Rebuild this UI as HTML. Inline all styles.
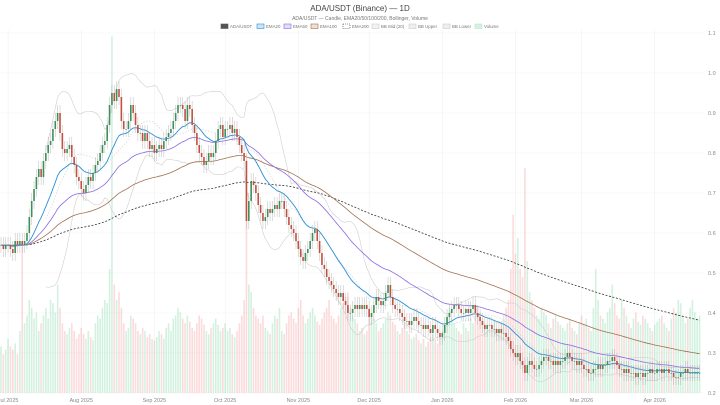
<!DOCTYPE html>
<html><head><meta charset="utf-8">
<style>
html,body{margin:0;padding:0;background:#fff;width:720px;height:405px;overflow:hidden;font-family:"Liberation Sans",sans-serif}
svg text{font-family:"Liberation Sans",sans-serif}
</style></head>
<body>
<svg id="chart" width="720" height="405" viewBox="0 0 720 405" xmlns="http://www.w3.org/2000/svg">
<text x="360" y="11" font-size="8" fill="#444" text-anchor="middle">ADA/USDT (Binance) — 1D</text>
<text x="360" y="20" font-size="5" fill="#777" text-anchor="middle">ADA/USDT — Candle, EMA20/50/100/200, Bollinger, Volume</text>
<g id="legend" font-size="4.4" fill="#777"></g>
<g id="grid"></g>
<g id="vol"></g>
<g id="bb"></g>
<g id="emas"></g>
<g id="candles"></g>
<g id="axes" font-size="5.5" fill="#888"></g>
</svg>
<script>
const startDate = [2025, 5, 28];
const closes = [
0.57,0.56,0.57,
0.57,0.56,0.55,0.58,0.57,0.58,0.57,0.58,0.60,0.64,0.68,0.71,0.74,0.76,0.74,0.78,0.80,0.82,0.83,0.86,0.88,0.90,0.85,0.81,0.80,0.81,0.82,0.79,0.77,0.74,0.73,
0.71,0.70,0.72,0.74,0.73,0.75,0.77,0.78,0.80,0.82,0.83,0.87,0.92,0.95,0.93,0.96,0.94,0.88,0.86,0.86,0.88,0.92,0.90,0.87,0.85,0.85,0.83,0.85,0.83,0.81,0.82,
0.80,0.81,0.82,0.81,0.83,0.84,0.85,0.86,0.88,0.90,0.92,0.92,0.91,0.88,0.92,0.91,0.87,0.85,0.82,0.80,0.79,0.77,0.78,0.80,0.79,0.80,0.83,0.86,0.87,0.84,
0.86,0.86,0.87,0.85,0.86,0.84,0.82,0.80,0.78,0.63,0.68,0.73,0.72,0.70,0.67,0.65,0.63,0.64,0.66,0.65,0.66,0.67,0.66,0.68,0.68,0.66,0.64,0.62,0.61,0.60,0.58,
0.56,0.54,0.53,0.55,0.56,0.58,0.60,0.61,0.58,0.55,0.52,0.51,0.49,0.48,0.47,0.46,0.45,0.44,0.45,0.43,0.42,0.40,0.40,0.41,0.42,0.41,0.42,0.41,0.42,0.41,
0.39,0.40,0.42,0.44,0.43,0.42,0.43,0.45,0.47,0.44,0.42,0.41,0.41,0.40,0.39,0.38,0.38,0.37,0.38,0.39,0.38,0.37,0.37,0.36,0.37,0.36,0.35,0.37,0.36,0.35,0.34,
0.35,0.37,0.39,0.40,0.41,0.42,0.42,0.41,0.40,0.40,0.41,0.40,0.41,0.42,0.40,0.39,0.38,0.37,0.36,0.37,0.37,0.36,0.36,0.35,0.36,0.35,0.35,0.34,0.33,0.31,0.30,
0.29,0.30,0.28,0.27,0.25,0.27,0.28,0.27,0.26,0.26,0.27,0.28,0.29,0.29,0.28,0.28,0.27,0.28,0.27,0.28,0.28,0.29,0.30,0.29,0.28,0.28,0.27,0.28,
0.27,0.26,0.26,0.25,0.25,0.26,0.26,0.27,0.26,0.27,0.27,0.28,0.28,0.29,0.28,0.27,0.26,0.26,0.25,0.26,0.25,0.25,0.25,0.24,0.25,0.25,0.24,0.25,0.25,0.26,0.25,
0.25,0.26,0.26,0.25,0.26,0.26,0.25,0.25,0.24,0.24,0.24,0.25,0.25,0.26,0.25,0.25,0.25,0.25,0.25,0.25
];
const volumes = [
30,25,28,
35,30,28,32,25,40,95,45,50,60,55,48,52,40,45,50,55,48,60,58,52,70,55,45,40,38,42,45,40,35,38,
42,38,35,40,36,34,45,50,48,55,60,58,80,230,70,60,65,55,45,40,42,50,48,45,40,38,42,40,36,38,35,
34,36,40,38,35,42,45,40,48,50,55,52,48,45,50,46,42,40,45,50,48,44,40,38,42,45,48,44,40,42,
45,40,42,38,36,40,45,50,60,150,70,65,55,50,48,45,50,42,40,38,45,50,48,55,40,38,45,50,52,48,45,
55,60,50,45,48,52,55,50,46,44,48,52,55,60,50,48,45,50,55,58,62,65,55,50,48,45,40,42,38,40,
55,50,48,45,40,42,45,48,52,50,46,44,40,38,42,45,40,38,35,36,38,34,32,35,30,33,36,38,35,32,36,
40,45,50,55,48,45,42,40,38,45,42,40,48,45,50,55,52,48,45,42,40,44,46,42,40,45,50,55,60,80,115,
90,100,80,75,145,85,65,60,55,50,48,55,52,50,45,42,48,50,46,44,42,40,45,48,42,40,38,45,
50,45,48,42,40,55,80,60,50,48,45,52,55,70,58,50,48,60,55,50,45,42,48,52,46,44,50,48,45,42,40,
44,46,48,50,45,42,40,48,55,52,60,58,50,45,48,55,60,52,48,50
];
const yTicks = [0.2,0.3,0.4,0.5,0.6,0.7,0.8,0.9,1.0,1.1];
const monthLabels = ["Jul 2025","Aug 2025","Sep 2025","Oct 2025","Nov 2025","Dec 2025","Jan 2026","Feb 2026","Mar 2026","Apr 2026"];
const monthOffsets = [3,34,65,95,126,156,187,218,246,277];

const NS="http://www.w3.org/2000/svg";
const X0=1, DX=2.36, PR=705, VS=1.55;
const x = i => X0 + i*DX;
const y = v => 393 - (v-0.2)*400;
function mk(tag, attrs, parent){const e=document.createElementNS(NS,tag);for(const k in attrs)e.setAttribute(k,attrs[k]);parent.appendChild(e);return e;}
const G=id=>document.getElementById(id);

yTicks.forEach(t=>{
  const l=mk('line',{x1:0,x2:PR,y1:y(t),y2:y(t),stroke:'#f2f2f2','stroke-width':0.6},G('grid'));
  
  
  const tx=mk('text',{x:708,y:y(t)+2},G('axes'));tx.textContent=t.toFixed(1);
  
  
});
monthLabels.forEach((m,k)=>{
  const xx=x(monthOffsets[k]);
  const l=mk('line',{x1:xx,x2:xx,y1:30,y2:393,stroke:'#f0f0f0','stroke-width':0.6},G('grid'));
  
  
  const tx=mk('text',{x:xx,y:402,'text-anchor':'middle'},G('axes'));tx.textContent=m;
  
  
});

closes.forEach((c,i)=>{
  const o=i?closes[i-1]:c; const up=c>=o;
  const h=Math.min(volumes[i]*VS,360);
  const r=mk('rect',{x:x(i)-0.8,y:393-h,width:1.6,height:h,fill:up?'rgba(80,200,130,0.25)':'rgba(240,110,110,0.25)'},G('vol'));
  
  
});

function ema(n){const a=2/(n+1);let e=closes[0];return closes.map(c=>(e=e+a*(c-e)));}
function path(vals,start){let d='';vals.forEach((v,i)=>{if(i<start||v==null)return;d+=(d?'L':'M')+x(i).toFixed(1)+','+y(v).toFixed(1);});return d;}

const mid=[],up=[],lo=[];
closes.forEach((c,i)=>{
  if(i<19){mid.push(null);up.push(null);lo.push(null);return;}
  const s=closes.slice(i-19,i+1);const m=s.reduce((a,b)=>a+b,0)/20;
  const sd=Math.sqrt(s.reduce((a,b)=>a+(b-m)*(b-m),0)/20);
  mid.push(m);up.push(m+2*sd);lo.push(m-2*sd);
});
[[up,'bb-upper','none'],[lo,'bb-lower','none'],[mid,'bb-mid','1.5,1.5']].forEach(([arr,nm,da])=>{
  const p=mk('path',{d:path(arr,19),fill:'none',stroke:'#cfcfcf','stroke-width':0.6,'stroke-dasharray':da},G('bb'));
  
  
});

[[200,'#333','2,1.6',0.8,'ema200-line'],[100,'#a07050','none',0.8,'ema100-line'],[50,'#8a6ae0','none',0.8,'ema50-line'],[20,'#2a8fd6','none',0.9,'ema20-line']].forEach(([n,col,da,w,nm])=>{
  const p=mk('path',{d:path(ema(n),0),fill:'none',stroke:col,'stroke-width':w,'stroke-dasharray':da},G('emas'));
  
  
});

closes.forEach((c,i)=>{
  const o=i?closes[i-1]:c; const upc=c>=o; const col=upc?'#3f8f5a':'#c0513f';
  const hi=Math.max(o,c)+0.02, lw=Math.min(o,c)-0.02;
  const w=mk('line',{x1:x(i),x2:x(i),y1:y(hi),y2:y(lw),stroke:'#aaa','stroke-width':0.4},G('candles'));
  
  
  const top=y(Math.max(o,c)), h=Math.max(0.6,Math.abs(y(o)-y(c)));
  const b=mk('rect',{x:x(i)-0.8,y:top,width:1.6,height:h,fill:col},G('candles'));
  
  
});

const legendItems=[["ADA/USDT","#555","#555"],["EMA20","#cfe3f7","#2a8fd6"],["EMA50","#e6dcfa","#8a6ae0"],["EMA100","#eee0d6","#a07050"],["EMA200","#fff","#333"],["BB Mid (20)","#f2f2f2","#ccc"],["BB Upper","#eee","#ccc"],["BB Lower","#eee","#ccc"],["Volume","#d4f2e0","#bde8cd"]];
const legendX=[221,257,284,311,343,372,409,443,475];
legendItems.forEach(([t,f,s],k)=>{
  const g=mk('g',{},G('legend'));
  
  
  mk('rect',{x:legendX[k],y:24,width:7,height:4.5,fill:f,stroke:s,'stroke-width':0.6,'stroke-dasharray':k===4?'1,1':'none'},g);
  const tx=mk('text',{x:legendX[k]+9,y:28.2},g);tx.textContent=t;
});
</script>
</body></html>
